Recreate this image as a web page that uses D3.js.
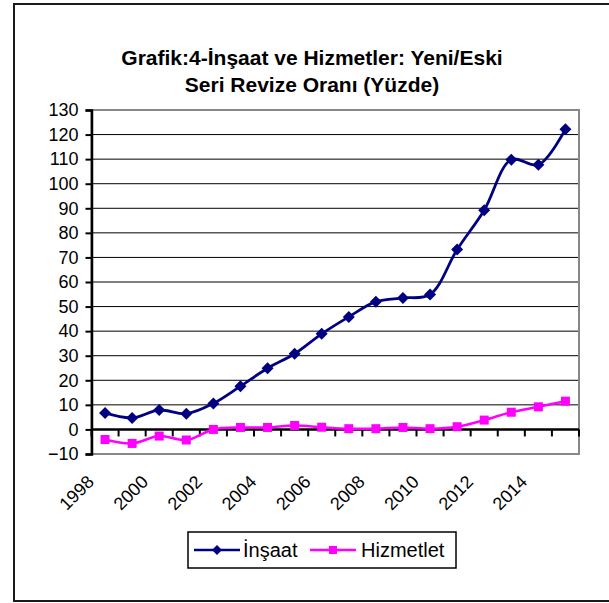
<!DOCTYPE html>
<html>
<head>
<meta charset="utf-8">
<script src="https://cdn.jsdelivr.net/npm/d3@7"></script>
<style>
  body { margin: 0; background: #fff; }
  svg { font-family: "Liberation Sans", Arial, sans-serif; }
</style>
</head>
<body>
<div id="chart"></div>
<script>
// data
const years = [1998, 1999, 2000, 2001, 2002, 2003, 2004, 2005, 2006, 2007, 2008, 2009, 2010, 2011, 2012, 2013, 2014, 2015]
const insaat = [6.7, 4.7, 7.9, 6.4, 10.6, 17.6, 24.9, 30.8, 38.9, 45.8, 52, 53.5, 54.9, 73.2, 89.2, 109.8, 107.7, 122.2]
const hizmetlet = [-4.1, -5.7, -2.7, -4.3, 0, 0.8, 0.8, 1.6, 0.9, 0.3, 0.3, 0.8, 0.3, 1.1, 3.8, 7.0, 9.2, 11.5]
const yTicks = [-10, 0, 10, 20, 30, 40, 50, 60, 70, 80, 90, 100, 110, 120, 130]
const xLabels = [1998, 2000, 2002, 2004, 2006, 2008, 2010, 2012, 2014]
const titleLines = ["Grafik:4-İnşaat ve Hizmetler: Yeni/Eski", "Seri Revize Oranı (Yüzde)"]
const seriesNames = ["İnşaat", "Hizmetlet"]

const W = 609, H = 603
const plot = {left: 91.5, right: 579, top: 110, bottom: 454}

const svg = d3.select('#chart').append('svg')
    .attr('width', W)
    .attr('height', H)

// outer frame (right side runs off the picture)
svg.append('rect')
    .attr('x', 14).attr('y', 4)
    .attr('width', 610).attr('height', 597)
    .attr('fill', 'none')
    .attr('stroke', '#1a1a1a')
    .attr('stroke-width', 2)

// title
svg.append('g').selectAll('text')
    .data(titleLines)
    .enter().append('text')
    .attr('x', 312)
    .attr('y', (d, i) => 65 + i * 27)
    .attr('text-anchor', 'middle')
    .style('font-size', '21px')
    .style('font-weight', 'bold')
    .text(d => d)

var x = d3.scaleBand()
    .domain(years)
    .range([plot.left, plot.right])
var y = d3.scaleLinear()
    .domain([-10, 130])
    .range([plot.bottom, plot.top])
var cx = d => x(d) + x.bandwidth() / 2

// gridlines
svg.append('g').selectAll('line')
    .data(yTicks.filter(d => d > 0 && d < 130))
    .enter().append('line')
    .attr('x1', plot.left).attr('x2', plot.right)
    .attr('y1', d => y(d)).attr('y2', d => y(d))
    .attr('stroke', '#000')
    .attr('stroke-width', 1)

// plot area border (grey)
svg.append('rect')
    .attr('x', plot.left).attr('y', plot.top)
    .attr('width', plot.right - plot.left)
    .attr('height', plot.bottom - plot.top)
    .attr('fill', 'none')
    .attr('stroke', '#888')
    .attr('stroke-width', 2)

// y axis
var yAxis = svg.append('g')
    .attr('transform', 'translate(' + plot.left + ',0)')
    .call(d3.axisLeft(y).tickValues(yTicks).tickSize(6).tickPadding(7))
yAxis.select('.domain').attr('stroke', '#000').attr('stroke-width', 2.5)
yAxis.selectAll('.tick line').attr('stroke', '#000').attr('stroke-width', 2)
yAxis.selectAll('text').style('font-size', '18px').attr('fill', '#000')

// x axis at zero, ticks between categories
var xg = svg.append('g')
xg.append('line')
    .attr('x1', plot.left).attr('x2', plot.right)
    .attr('y1', y(0)).attr('y2', y(0))
    .attr('stroke', '#000').attr('stroke-width', 2.5)
xg.selectAll('line.tk')
    .data(years.concat(['end']))
    .enter().append('line')
    .attr('class', 'tk')
    .attr('x1', d => d === 'end' ? plot.right : x(d))
    .attr('x2', d => d === 'end' ? plot.right : x(d))
    .attr('y1', y(0)).attr('y2', y(0) + 7)
    .attr('stroke', '#000').attr('stroke-width', 2)

svg.append('g').selectAll('text')
    .data(xLabels)
    .enter().append('text')
    .attr('transform', d => 'translate(' + (cx(d) - 10) + ',483) rotate(-45)')
    .attr('text-anchor', 'end')
    .style('font-size', '18px')
    .text(d => d)

// series
var line = d3.line()
    .x((d, i) => cx(years[i]))
    .y(d => y(d))
    .curve(d3.curveCatmullRom.alpha(0.5))

var navy = '#000080', magenta = '#ff00ff'

svg.append('path')
    .datum(hizmetlet)
    .attr('d', line)
    .attr('fill', 'none')
    .attr('stroke', magenta)
    .attr('stroke-width', 2.5)
svg.append('g').selectAll('rect')
    .data(hizmetlet)
    .enter().append('rect')
    .attr('x', (d, i) => cx(years[i]) - 4.5)
    .attr('y', d => y(d) - 4.5)
    .attr('width', 9).attr('height', 9)
    .attr('fill', magenta)

svg.append('path')
    .datum(insaat)
    .attr('d', line)
    .attr('fill', 'none')
    .attr('stroke', navy)
    .attr('stroke-width', 2.8)
svg.append('g').selectAll('path')
    .data(insaat)
    .enter().append('path')
    .attr('d', 'M0,-6L6,0L0,6L-6,0Z')
    .attr('transform', (d, i) => 'translate(' + cx(years[i]) + ',' + y(d) + ')')
    .attr('fill', navy)

// legend
var lg = svg.append('g')
lg.append('rect')
    .attr('x', 188).attr('y', 532)
    .attr('width', 268).attr('height', 36)
    .attr('fill', '#fff')
    .attr('stroke', '#000')
    .attr('stroke-width', 1.5)
lg.append('line').attr('x1', 194).attr('x2', 240).attr('y1', 550).attr('y2', 550)
    .attr('stroke', navy).attr('stroke-width', 2.5)
lg.append('path').attr('d', 'M0,-5L5,0L0,5L-5,0Z')
    .attr('transform', 'translate(217,550)').attr('fill', navy)
lg.append('text').attr('x', 243).attr('y', 557).style('font-size', '20px').text(seriesNames[0])
lg.append('line').attr('x1', 310).attr('x2', 356).attr('y1', 550).attr('y2', 550)
    .attr('stroke', magenta).attr('stroke-width', 2.5)
lg.append('rect').attr('x', 329).attr('y', 546).attr('width', 8).attr('height', 8)
    .attr('fill', magenta)
lg.append('text').attr('x', 361).attr('y', 557).style('font-size', '20px').text(seriesNames[1])
</script>
</body>
</html>
